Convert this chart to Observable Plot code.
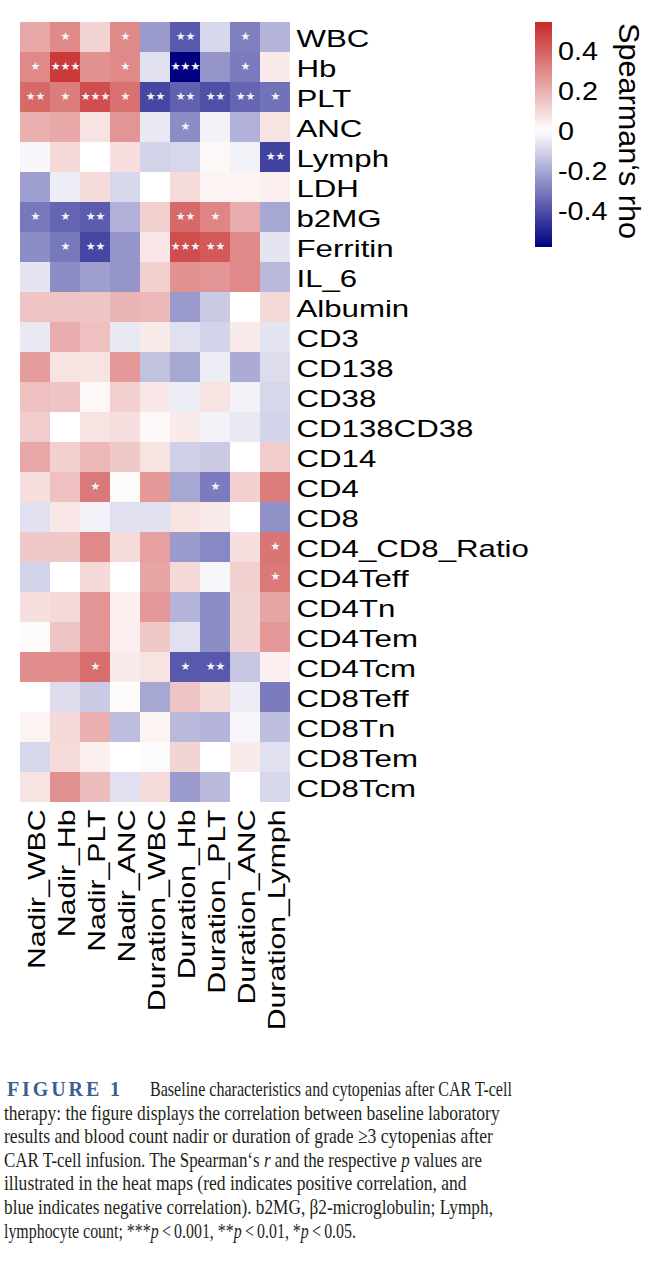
<!DOCTYPE html>
<html>
<head>
<meta charset="utf-8">
<script src="https://cdn.jsdelivr.net/npm/d3@7"></script>
<script src="https://cdn.jsdelivr.net/npm/@observablehq/plot@0.6"></script>
<style>
  html, body { margin: 0; padding: 0; background: #ffffff; }
  #wrap { position: relative; width: 654px; height: 1286px; overflow: hidden; }
  #chart { position: absolute; left: 0; top: 0; }
  #overlay { position: absolute; left: 0; top: 0; }
</style>
</head>
<body>
<div id="wrap">
  <div id="chart"></div>
  <svg id="overlay" width="654" height="1286"></svg>
</div>
<script>
// ---------------- data ----------------
const markers = ["WBC","Hb","PLT","ANC","Lymph","LDH","b2MG","Ferritin","IL_6","Albumin",
  "CD3","CD138","CD38","CD138CD38","CD14","CD4","CD8","CD4_CD8_Ratio","CD4Teff","CD4Tn",
  "CD4Tem","CD4Tcm","CD8Teff","CD8Tn","CD8Tem","CD8Tcm"];

const measures = ["Nadir_WBC","Nadir_Hb","Nadir_PLT","Nadir_ANC","Duration_WBC",
  "Duration_Hb","Duration_PLT","Duration_ANC","Duration_Lymph"];

// Spearman's rho, one row per baseline marker, columns in the order of `measures`
const rho = [
  [ 0.22,  0.30,  0.11,  0.30, -0.23, -0.38, -0.09, -0.29, -0.17], // WBC
  [ 0.30,  0.50,  0.28,  0.30, -0.07, -0.58, -0.24, -0.30,  0.05], // Hb
  [ 0.38,  0.33,  0.45,  0.36, -0.42, -0.36, -0.40, -0.35, -0.32], // PLT
  [ 0.20,  0.22,  0.07,  0.27, -0.05, -0.26, -0.03, -0.18,  0.07], // ANC
  [-0.02,  0.10,  0.00,  0.08, -0.10, -0.09,  0.02, -0.03, -0.43], // Lymph
  [-0.22, -0.04,  0.09, -0.09,  0.00,  0.09,  0.03,  0.03,  0.04], // LDH
  [-0.31, -0.35, -0.37, -0.18,  0.12,  0.38,  0.31,  0.21, -0.20], // b2MG
  [-0.26, -0.31, -0.42, -0.24,  0.06,  0.45,  0.42,  0.30, -0.06], // Ferritin
  [-0.06, -0.26, -0.22, -0.24,  0.12,  0.28,  0.27,  0.30, -0.16], // IL_6
  [ 0.15,  0.15,  0.15,  0.19,  0.18, -0.23, -0.12,  0.00,  0.10], // Albumin
  [-0.05,  0.21,  0.16, -0.05,  0.05, -0.07, -0.10,  0.05, -0.06], // CD3
  [ 0.25,  0.07,  0.07,  0.26, -0.14, -0.20, -0.04, -0.19, -0.08], // CD138
  [ 0.16,  0.15,  0.02,  0.12,  0.06, -0.04,  0.07, -0.03, -0.09], // CD38
  [ 0.13,  0.00,  0.07,  0.08,  0.02,  0.05, -0.03, -0.05, -0.10], // CD138CD38
  [ 0.22,  0.12,  0.18,  0.14,  0.07, -0.11, -0.12,  0.00,  0.13], // CD14
  [ 0.08,  0.16,  0.34,  0.01,  0.26, -0.20, -0.30,  0.12,  0.33], // CD4
  [-0.07,  0.06, -0.03, -0.07, -0.07,  0.07,  0.05,  0.00, -0.25], // CD8
  [ 0.14,  0.14,  0.30,  0.09,  0.24, -0.23, -0.27,  0.08,  0.35], // CD4_CD8_Ratio
  [-0.10,  0.00,  0.10,  0.00,  0.23,  0.10, -0.02,  0.12,  0.34], // CD4Teff
  [ 0.08,  0.10,  0.27,  0.04,  0.26, -0.17, -0.26,  0.11,  0.23], // CD4Tn
  [ 0.01,  0.15,  0.27,  0.04,  0.14, -0.07, -0.26,  0.11,  0.26], // CD4Tem
  [ 0.29,  0.29,  0.37,  0.05,  0.07, -0.38, -0.38, -0.13,  0.04], // CD4Tcm
  [ 0.00, -0.08, -0.12,  0.01, -0.20,  0.15,  0.09, -0.04, -0.30], // CD8Teff
  [ 0.03,  0.10,  0.20, -0.15,  0.03, -0.16, -0.17, -0.02, -0.15], // CD8Tn
  [-0.09,  0.09,  0.04,  0.00, -0.01,  0.11,  0.00,  0.05, -0.07], // CD8Tem
  [ 0.07,  0.28,  0.17, -0.07,  0.09, -0.23, -0.16,  0.00, -0.09]  // CD8Tcm
];

// significance marks (number of stars), same layout as `rho`
const signif = [
  [0,1,0,1,0,2,0,1,0], // WBC
  [1,3,0,1,0,3,0,1,0], // Hb
  [2,1,3,1,2,2,2,2,1], // PLT
  [0,0,0,0,0,1,0,0,0], // ANC
  [0,0,0,0,0,0,0,0,2], // Lymph
  [0,0,0,0,0,0,0,0,0], // LDH
  [1,1,2,0,0,2,1,0,0], // b2MG
  [0,1,2,0,0,3,2,0,0], // Ferritin
  [0,0,0,0,0,0,0,0,0], // IL_6
  [0,0,0,0,0,0,0,0,0], // Albumin
  [0,0,0,0,0,0,0,0,0], // CD3
  [0,0,0,0,0,0,0,0,0], // CD138
  [0,0,0,0,0,0,0,0,0], // CD38
  [0,0,0,0,0,0,0,0,0], // CD138CD38
  [0,0,0,0,0,0,0,0,0], // CD14
  [0,0,1,0,0,0,1,0,0], // CD4
  [0,0,0,0,0,0,0,0,0], // CD8
  [0,0,0,0,0,0,0,0,1], // CD4_CD8_Ratio
  [0,0,0,0,0,0,0,0,1], // CD4Teff
  [0,0,0,0,0,0,0,0,0], // CD4Tn
  [0,0,0,0,0,0,0,0,0], // CD4Tem
  [0,0,1,0,0,1,2,0,0], // CD4Tcm
  [0,0,0,0,0,0,0,0,0], // CD8Teff
  [0,0,0,0,0,0,0,0,0], // CD8Tn
  [0,0,0,0,0,0,0,0,0], // CD8Tem
  [0,0,0,0,0,0,0,0,0]  // CD8Tcm
];

const colorDomain = [-0.58, 0, 0.545];
const colorRange = ["#000080", "#ffffff", "#c62828"];
const legendTicks = [0.4, 0.2, 0, -0.2, -0.4];
const legendTitle = "Spearman\u2018s rho";

const captionHead = "FIGURE 1";
const captionLines = [
  [["Baseline characteristics and cytopenias after CAR T-cell", false]],
  [["therapy: the figure displays the correlation between baseline laboratory", false]],
  [["results and blood count nadir or duration of grade \u22653 cytopenias after", false]],
  [["CAR T-cell infusion. The Spearman\u2018s ", false], ["r", true], [" and the respective ", false], ["p", true], [" values are", false]],
  [["illustrated in the heat maps (red indicates positive correlation, and", false]],
  [["blue indicates negative correlation). b2MG, \u03B22-microglobulin; Lymph,", false]],
  [["lymphocyte count; ***", false], ["p", true], ["\u2009<\u20090.001, **", false], ["p", true], ["\u2009<\u20090.01, *", false], ["p", true], ["\u2009<\u20090.05.", false]]
];

// ---------------- chart ----------------
const cells = markers.flatMap((m, i) => measures.map((c, j) => ({
  marker: m, measure: c, rho: rho[i][j], star: "\u2605".repeat(signif[i][j])
})));

const sans = "'Liberation Sans', Arial, Helvetica, sans-serif";

const chart = Plot.plot({
  width: 654,
  height: 1045,
  marginLeft: 20,
  marginRight: 364,
  marginTop: 22,
  marginBottom: 243,
  style: { fontFamily: sans, background: "transparent", color: "#000" },
  x: { domain: measures, padding: 0, label: null },
  y: { domain: markers, padding: 0, label: null },
  color: { type: "linear", domain: colorDomain, range: colorRange, interpolate: "rgb" },
  marks: [
    Plot.cell(cells, { x: "measure", y: "marker", fill: "rho", inset: 0, shapeRendering: "crispEdges" }),
    Plot.text(cells.filter(d => d.star), {
      x: "measure", y: "marker", text: "star", fill: "#f4f4f8", fontSize: 11,
      fontFamily: "'DejaVu Sans', sans-serif", dy: -1
    }),
    Plot.axisY({ anchor: "right", tickSize: 0, tickPadding: 6, fontSize: 24, dy: 2 }),
    Plot.axisX({ anchor: "bottom", tickSize: 0, tickPadding: 7, tickRotate: -90, fontSize: 24, dx: 2 })
  ]
});
document.getElementById("chart").appendChild(chart);

function stretch(nodes, f) {
  nodes.forEach(t => {
    const L = t.getComputedTextLength();
    if (L > 0) {
      t.setAttribute("textLength", (L * f).toFixed(1));
      t.setAttribute("lengthAdjust", "spacingAndGlyphs");
    }
  });
}
stretch(chart.querySelectorAll('g[aria-label="y-axis tick label"] text'), 1.3);
stretch(chart.querySelectorAll('g[aria-label="x-axis tick label"] text'), 1.26);

// ---------------- legend ----------------
const cs = chart.scale("color");
const ov = d3.select("#overlay");
const legY = d3.scaleLinear().domain([colorDomain[0], colorDomain[2]]).range([247, 22]);
const grad = ov.append("defs").append("linearGradient")
  .attr("id", "rhoGrad").attr("x1", 0).attr("x2", 0).attr("y1", 1).attr("y2", 0);
d3.range(0, 1.0001, 0.02).forEach(t => {
  const v = colorDomain[0] + t * (colorDomain[2] - colorDomain[0]);
  grad.append("stop").attr("offset", t).attr("stop-color", cs.apply(v));
});
ov.append("rect").attr("x", 535).attr("y", legY(colorDomain[2]))
  .attr("width", 17).attr("height", legY(colorDomain[0]) - legY(colorDomain[2]))
  .attr("fill", "url(#rhoGrad)");
const tickSel = ov.append("g").selectAll("text").data(legendTicks).join("text")
  .attr("x", 558).attr("y", d => legY(d)).attr("dy", "0.36em")
  .attr("font-family", sans).attr("font-size", 25).attr("fill", "#000")
  .text(d => d === 0 ? "0" : d3.format(".1f")(d).replace("\u2212", "-"));
stretch(tickSel.nodes(), 1.15);
ov.append("text")
  .attr("transform", "translate(619,23) rotate(90)")
  .attr("font-family", sans).attr("font-size", 29).attr("fill", "#000")
  .attr("textLength", 216).attr("lengthAdjust", "spacingAndGlyphs")
  .text(legendTitle);

// ---------------- caption ----------------
const serif = "'Liberation Serif', 'Times New Roman', serif";
const capG = ov.append("g").attr("font-family", serif).attr("fill", "#231f20");
const lineEnds = [512, 500, 493, 482, 467, 493, 356];
const base0 = 1096, lineGap = 23.6, capSize = 21.5;
capG.append("text").attr("x", 7).attr("y", base0)
  .attr("font-size", 20).attr("font-weight", "bold").attr("fill", "#3a5f93")
  .attr("textLength", 113).attr("lengthAdjust", "spacing")
  .text(captionHead);
captionLines.forEach((segs, i) => {
  const x0 = i === 0 ? 150 : 4;
  const y = base0 + i * lineGap;
  // each line sits in a group scaled horizontally so it spans the measured width
  const g = capG.append("g");
  const nodes = segs.map(([s, it]) => g.append("text")
    .attr("y", 0).attr("font-size", capSize)
    .attr("font-style", it ? "italic" : "normal")
    .style("white-space", "pre")
    .text(s).node());
  const widths = nodes.map(n => n.getComputedTextLength());
  const total = d3.sum(widths);
  const k = (lineEnds[i] - x0) / total;
  let x = 0;
  nodes.forEach((n, j) => { n.setAttribute("x", x.toFixed(2)); x += widths[j]; });
  g.attr("transform", `translate(${x0},${y}) scale(${k.toFixed(4)},1)`);
});
</script>
</body>
</html>
